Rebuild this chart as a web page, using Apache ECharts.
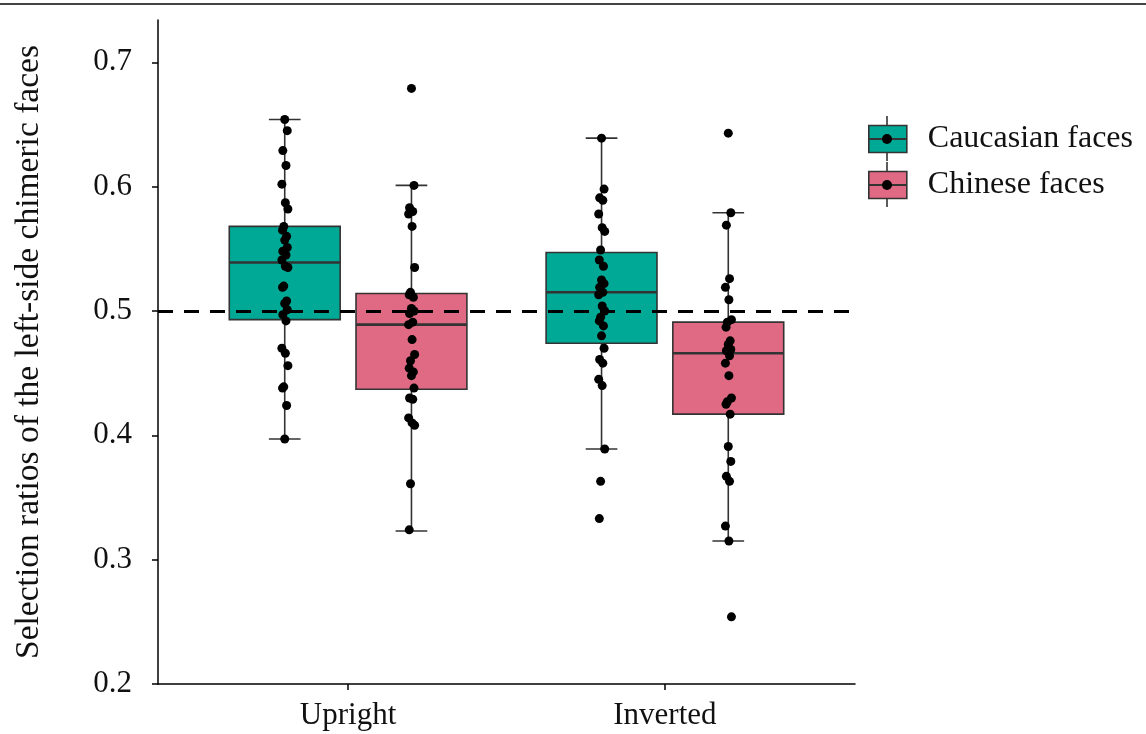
<!DOCTYPE html>
<html>
<head>
<meta charset="utf-8">
<script src="https://cdn.jsdelivr.net/npm/echarts@6/dist/echarts.min.js"></script>
<style>html,body{margin:0;padding:0;background:#fff;}#c{width:1146px;height:734px;}</style>
</head>
<body>
<div id="c"></div>
<script>
// ---- data ----
const categories = ['Upright', 'Inverted'];
const groups = ['Caucasian faces', 'Chinese faces'];
const groupColors = ['#00A995', '#E06A84'];
const yTicks = [0.2, 0.3, 0.4, 0.5, 0.6, 0.7];
const chanceLevel = 0.5;

// box stats: [lower whisker, Q1, median, Q3, upper whisker] for Upright, Inverted
const caucasianBox = [[0.397, 0.493, 0.539, 0.568, 0.654], [0.389, 0.474, 0.515, 0.547, 0.639]];
const chineseBox   = [[0.323, 0.437, 0.489, 0.514, 0.601], [0.315, 0.417, 0.466, 0.491, 0.579]];

// individual participant values
const caucasianUpright = [0.654, 0.645, 0.629, 0.617, 0.602, 0.587, 0.582, 0.568, 0.565, 0.560, 0.557, 0.551, 0.548, 0.545, 0.541, 0.536, 0.535, 0.520, 0.519, 0.508, 0.506, 0.501, 0.497, 0.492, 0.470, 0.466, 0.456, 0.439, 0.438, 0.424, 0.397];
const chineseUpright   = [0.679, 0.601, 0.583, 0.580, 0.578, 0.568, 0.535, 0.515, 0.513, 0.511, 0.502, 0.500, 0.498, 0.491, 0.489, 0.477, 0.465, 0.460, 0.454, 0.451, 0.448, 0.438, 0.430, 0.429, 0.414, 0.410, 0.408, 0.361, 0.324];
const caucasianInverted = [0.639, 0.598, 0.591, 0.589, 0.578, 0.567, 0.564, 0.549, 0.541, 0.536, 0.525, 0.522, 0.519, 0.515, 0.513, 0.504, 0.500, 0.495, 0.492, 0.488, 0.480, 0.470, 0.461, 0.458, 0.445, 0.440, 0.389, 0.363, 0.333];
const chineseInverted   = [0.643, 0.579, 0.569, 0.526, 0.519, 0.509, 0.493, 0.491, 0.487, 0.476, 0.473, 0.469, 0.468, 0.464, 0.458, 0.448, 0.430, 0.427, 0.425, 0.417, 0.391, 0.379, 0.367, 0.363, 0.327, 0.315, 0.254];

// ---- layout constants ----
const groupOffset = [-0.2, 0.2];
const boxWidth = 0.35;
const capWidth = 0.1;
const jitter = [0, 0.008, -0.006, 0.004, -0.009, 0.002, 0.010, -0.003, -0.007, 0.006];
const FONT = "'Liberation Serif', 'DejaVu Serif', serif";

const boxData = [caucasianBox, chineseBox];
const pointData = [[caucasianUpright, caucasianInverted], [chineseUpright, chineseInverted]];

function renderBox(params, api) {
  const x = api.value(0);
  const lo = api.coord([x, api.value(1)]);
  const q1 = api.coord([x, api.value(2)]);
  const md = api.coord([x, api.value(3)]);
  const q3 = api.coord([x, api.value(4)]);
  const hi = api.coord([x, api.value(5)]);
  const hw = api.size([boxWidth / 2, 0])[0];
  const cw = api.size([capWidth / 2, 0])[0];
  const stroke = '#333';
  const lw = { stroke: stroke, lineWidth: 1.6 };
  return {
    type: 'group',
    children: [
      { type: 'line', shape: { x1: hi[0], y1: hi[1], x2: q3[0], y2: q3[1] }, style: lw },
      { type: 'line', shape: { x1: q1[0], y1: q1[1], x2: lo[0], y2: lo[1] }, style: lw },
      { type: 'line', shape: { x1: hi[0] - cw, y1: hi[1], x2: hi[0] + cw, y2: hi[1] }, style: lw },
      { type: 'line', shape: { x1: lo[0] - cw, y1: lo[1], x2: lo[0] + cw, y2: lo[1] }, style: lw },
      { type: 'rect', shape: { x: q3[0] - hw, y: q3[1], width: hw * 2, height: q1[1] - q3[1] },
        style: { fill: api.visual('color'), stroke: stroke, lineWidth: 1.6 } },
      { type: 'line', shape: { x1: md[0] - hw, y1: md[1], x2: md[0] + hw, y2: md[1] },
        style: { stroke: stroke, lineWidth: 2.6 } }
    ]
  };
}

const series = [];
groups.forEach(function (g, gi) {
  const data = categories.map(function (c, ci) {
    const s = boxData[gi][ci];
    return [ci + 1 + groupOffset[gi], s[0], s[1], s[2], s[3], s[4]];
  });
  const sObj = {
    name: g,
    type: 'custom',
    renderItem: renderBox,
    itemStyle: { color: groupColors[gi] },
    encode: { x: 0, y: [1, 2, 3, 4, 5] },
    data: data,
    z: 2,
    silent: true
  };
  if (gi === 1) {
    sObj.markLine = {
      silent: true,
      symbol: ['none', 'none'],
      label: { show: false },
      lineStyle: { color: '#000', type: [15, 11], width: 3 },
      data: [{ yAxis: chanceLevel }],
      z: 3
    };
  }
  series.push(sObj);
});
groups.forEach(function (g, gi) {
  const pts = [];
  categories.forEach(function (c, ci) {
    pointData[gi][ci].forEach(function (v, k) {
      pts.push([ci + 1 + groupOffset[gi] + jitter[k % jitter.length], v]);
    });
  });
  series.push({
    name: g + ' points',
    type: 'scatter',
    symbol: 'circle',
    symbolSize: 9,
    itemStyle: { color: '#000', opacity: 1 },
    data: pts,
    z: 4,
    silent: true
  });
});

const chart = echarts.init(document.getElementById('c'), null, { renderer: 'canvas' });
chart.setOption({
  animation: false,
  backgroundColor: '#fff',
  grid: { left: 158, right: 291, top: 20, bottom: 50, containLabel: false },
  xAxis: {
    type: 'value',
    min: 0.4, max: 2.6, interval: 0.2,
    splitLine: { show: false },
    axisLine: { lineStyle: { color: '#000', width: 1.5 } },
    axisTick: { show: true, customValues: [1, 2], length: 6, lineStyle: { color: '#000', width: 1.5 } },
    axisLabel: {
      customValues: [1, 2],
      formatter: function (v) { return categories[Math.round(v) - 1] || ''; },
      fontFamily: FONT, fontSize: 31, color: '#111', margin: 16
    }
  },
  yAxis: {
    type: 'value',
    min: 0.2, max: 0.734, interval: 0.1,
    splitLine: { show: false },
    axisLine: { show: true, lineStyle: { color: '#000', width: 1.5 } },
    axisTick: { show: true, customValues: yTicks, length: 6, lineStyle: { color: '#000', width: 1.5 } },
    axisLabel: {
      customValues: yTicks,
      formatter: function (v) { return v.toFixed(1); },
      fontFamily: FONT, fontSize: 31, color: '#111', margin: 26
    },
    name: 'Selection ratios of the left-side chimeric faces',
    nameLocation: 'middle',
    nameGap: 112,
    nameTextStyle: { fontFamily: FONT, fontSize: 33.5, color: '#111' }
  },
  legend: {
    orient: 'vertical',
    left: 868, top: 123,
    padding: 0,
    itemWidth: 38, itemHeight: 27, itemGap: 14,
    icon: 'rect',
    selectedMode: false,
    textStyle: { fontFamily: FONT, fontSize: 32, color: '#111', lineHeight: 27, padding: [0, 0, 0, 16] },
    data: groups.map(function (g, gi) {
      return { name: g, itemStyle: { color: groupColors[gi], borderColor: '#333', borderWidth: 1.6 } };
    })
  },
  graphic: [
    { type: 'line', z: 100, shape: { x1: 0, y1: 4, x2: 1146, y2: 4 }, style: { stroke: '#444', lineWidth: 2 } },
    // legend key decorations (whisker, median, point)
    { type: 'line', z: 100, shape: { x1: 887, y1: 116, x2: 887, y2: 125.5 }, style: { stroke: '#333', lineWidth: 1.6 } },
    { type: 'line', z: 100, shape: { x1: 887, y1: 152.5, x2: 887, y2: 161 }, style: { stroke: '#333', lineWidth: 1.6 } },
    { type: 'line', z: 100, shape: { x1: 868, y1: 139, x2: 906, y2: 139 }, style: { stroke: '#333', lineWidth: 2 } },
    { type: 'circle', z: 101, shape: { cx: 887, cy: 139, r: 5 }, style: { fill: '#000' } },
    { type: 'line', z: 100, shape: { x1: 887, y1: 162, x2: 887, y2: 171.5 }, style: { stroke: '#333', lineWidth: 1.6 } },
    { type: 'line', z: 100, shape: { x1: 887, y1: 198.5, x2: 887, y2: 207 }, style: { stroke: '#333', lineWidth: 1.6 } },
    { type: 'line', z: 100, shape: { x1: 868, y1: 185, x2: 906, y2: 185 }, style: { stroke: '#333', lineWidth: 2 } },
    { type: 'circle', z: 101, shape: { cx: 887, cy: 185, r: 5 }, style: { fill: '#000' } }
  ],
  series: series
});
</script>
</body>
</html>
